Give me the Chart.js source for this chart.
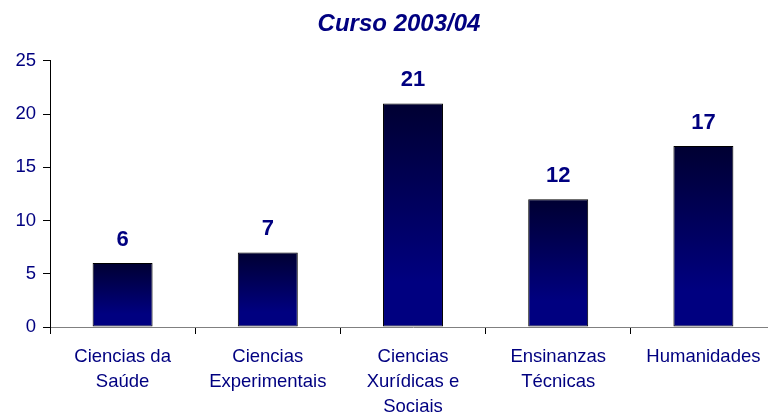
<!DOCTYPE html>
<html>
<head>
<meta charset="utf-8">
<script src="https://cdn.jsdelivr.net/npm/chart.js@4/dist/chart.umd.min.js"></script>
<style>
  html, body { margin: 0; padding: 0; background: #fff; overflow: hidden; }
  #wrap { width: 768px; height: 416px; overflow: hidden; }
  canvas { display: block; }
</style>
</head>
<body>
<div id="wrap"><canvas id="c" width="798" height="416"></canvas></div>
<script>
const categories = [
  ["Ciencias da", "Saúde"],
  ["Ciencias", "Experimentais"],
  ["Ciencias", "Xurídicas e", "Sociais"],
  ["Ensinanzas", "Técnicas"],
  ["Humanidades"]
];
const values = [6, 7, 21, 12, 17];
const yTicks = [0, 5, 10, 15, 20, 25];
const titleText = "Curso 2003/04";

const NAVY = "#000080";
const FONT = "'Liberation Sans', Arial, sans-serif";

function barGradient(ctx) {
  const chart = ctx.chart;
  const ys = chart.scales && chart.scales.y;
  if (!ys || ctx.type !== 'data' || !chart.chartArea) return NAVY;
  const top = ys.getPixelForValue(ctx.raw);
  const bottom = ys.getPixelForValue(0);
  if (!isFinite(top) || !isFinite(bottom) || bottom - top < 1) return NAVY;
  const g = chart.ctx.createLinearGradient(0, top, 0, bottom);
  g.addColorStop(0, "#000032");
  g.addColorStop(0.8, "#000080");
  g.addColorStop(1, "#000080");
  return g;
}

const valueLabels = {
  id: 'valueLabels',
  afterDatasetsDraw(chart) {
    const ctx = chart.ctx;
    const meta = chart.getDatasetMeta(0);
    ctx.save();
    ctx.font = "bold 22px " + FONT;
    ctx.fillStyle = NAVY;
    ctx.textAlign = "center";
    ctx.textBaseline = "alphabetic";
    meta.data.forEach((bar, i) => {
      ctx.fillText(String(values[i]), bar.x, bar.y - 17);
    });
    ctx.restore();
  }
};

new Chart(document.getElementById('c'), {
  type: 'bar',
  data: {
    labels: categories,
    datasets: [{
      data: values,
      backgroundColor: barGradient,
      borderColor: "#000000",
      borderWidth: 1,
      borderSkipped: false,
      barPercentage: 1,
      categoryPercentage: 0.413,
      yAxisID: 'y'
    }]
  },
  options: {
    responsive: false,
    animation: false,
    devicePixelRatio: 1,
    layout: { padding: 0 },
    plugins: {
      legend: { display: false },
      tooltip: { enabled: false },
      title: {
        display: true,
        text: titleText,
        color: NAVY,
        font: { family: FONT, size: 24, weight: 'bold', style: 'italic', lineHeight: 1.2 },
        padding: { top: 10, bottom: 22 }
      }
    },
    scales: {
      x: {
        afterFit(scale) { scale.height = 89; },
        grid: { drawOnChartArea: false, tickLength: 7, color: "#000000", offset: true },
        border: { color: "#808080", width: 1 },
        ticks: {
          color: NAVY,
          font: { family: FONT, size: 18.5, lineHeight: 1.35 },
          padding: 10,
          maxRotation: 0,
          autoSkip: false
        }
      },
      y: {
        position: 'left',
        min: 0,
        max: 25,
        afterFit(scale) { scale.width = 50; },
        afterBuildTicks(scale) { scale.ticks = yTicks.map(v => ({ value: v })); },
        grid: { drawOnChartArea: false, tickLength: 7, color: "#000000" },
        border: { color: "#000000", width: 1 },
        ticks: {
          color: NAVY,
          font: { family: FONT, size: 18.5 },
          padding: 7
        }
      },
      yPad: {
        position: 'right',
        display: true,
        afterFit(scale) { scale.width = 22; },
        grid: { display: false },
        border: { display: false },
        ticks: { display: false }
      }
    }
  },
  plugins: [valueLabels]
});
</script>
</body>
</html>
